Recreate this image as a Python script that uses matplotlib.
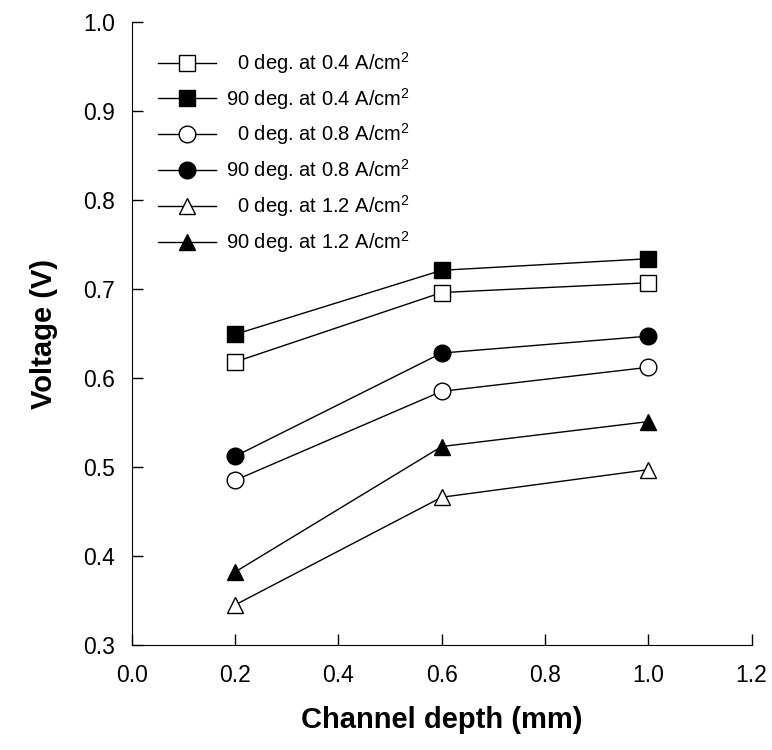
import matplotlib
matplotlib.use("Agg")
import matplotlib.pyplot as plt

plt.rcParams['font.family'] = ['Liberation Sans', 'DejaVu Sans']
plt.rcParams['mathtext.fontset'] = 'custom'
plt.rcParams['mathtext.rm'] = 'Liberation Sans'

depth = [0.2, 0.6, 1.0]
v_0deg_04 = [0.618, 0.696, 0.707]
v_90deg_04 = [0.649, 0.721, 0.734]
v_0deg_08 = [0.485, 0.585, 0.612]
v_90deg_08 = [0.512, 0.628, 0.647]
v_0deg_12 = [0.345, 0.466, 0.497]
v_90deg_12 = [0.382, 0.523, 0.551]

labels = ['  0 deg. at 0.4 A/cm$^2$', '90 deg. at 0.4 A/cm$^2$',
          '  0 deg. at 0.8 A/cm$^2$', '90 deg. at 0.8 A/cm$^2$',
          '  0 deg. at 1.2 A/cm$^2$', '90 deg. at 1.2 A/cm$^2$']
series = [v_0deg_04, v_90deg_04, v_0deg_08, v_90deg_08, v_0deg_12, v_90deg_12]
markers = ['s', 's', 'o', 'o', '^', '^']
filled = [False, True, False, True, False, True]

fig = plt.figure(figsize=(7.72, 7.5), dpi=100)
ax = fig.add_axes([0.1706, 0.14, 0.803, 0.8307])

for vals, lab, m, f in zip(series, labels, markers, filled):
    ax.plot(depth, vals, color='black', linewidth=1, marker=m,
            markersize=12, markerfacecolor='black' if f else 'white',
            markeredgecolor='black', markeredgewidth=1, label=lab)

ax.set_xlim(0.0, 1.2)
ax.set_ylim(0.3, 1.0)
ax.set_xticks([0.0, 0.2, 0.4, 0.6, 0.8, 1.0, 1.2])
ax.set_yticks([0.3, 0.4, 0.5, 0.6, 0.7, 0.8, 0.9, 1.0])
ax.xaxis.set_major_formatter(matplotlib.ticker.FormatStrFormatter('%.1f'))
ax.yaxis.set_major_formatter(matplotlib.ticker.FormatStrFormatter('%.1f'))
ax.tick_params(direction='in', length=8, width=1, labelsize=16.5)
ax.tick_params(axis='x', pad=14)
ax.tick_params(axis='y', pad=12)
ax.spines['top'].set_visible(False)
ax.spines['right'].set_visible(False)

ax.set_xlabel('Channel depth (mm)', fontsize=21, fontweight='bold', labelpad=13)
ax.set_ylabel('Voltage (V)', fontsize=21, fontweight='bold', labelpad=18)

ax.legend(loc='upper left', bbox_to_anchor=(0.042, 0.955), frameon=False,
          fontsize=14.5, handlelength=2.9, labelspacing=0.49,
          handletextpad=0.5, borderaxespad=0, borderpad=0)

fig.savefig('out.png', dpi=100)
